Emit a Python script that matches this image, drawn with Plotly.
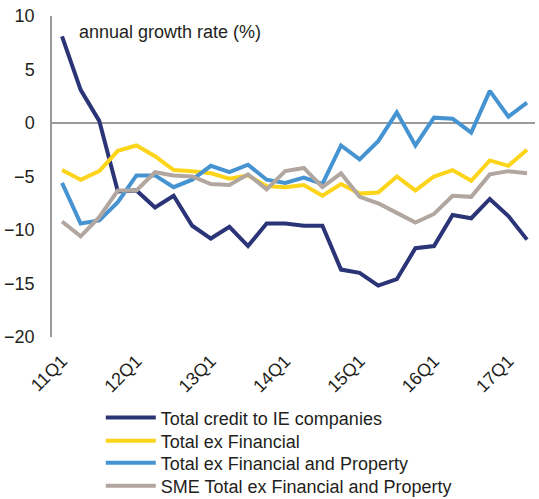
import plotly.graph_objects as go

quarters = ["11Q1","11Q2","11Q3","11Q4","12Q1","12Q2","12Q3","12Q4",
            "13Q1","13Q2","13Q3","13Q4","14Q1","14Q2","14Q3","14Q4",
            "15Q1","15Q2","15Q3","15Q4","16Q1","16Q2","16Q3","16Q4",
            "17Q1","17Q2"]
tick_labels = ["11Q1","12Q1","13Q1","14Q1","15Q1","16Q1","17Q1"]

total_credit = [8.1, 3.1, 0.2, -6.4, -6.3, -7.9, -6.8, -9.6, -10.8, -9.7, -11.5, -9.4,
                -9.4, -9.6, -9.6, -13.7, -14.0, -15.2, -14.6, -11.7, -11.5, -8.6,
                -8.9, -7.1, -8.7, -10.9]
total_ex_fin = [-4.4, -5.3, -4.5, -2.6, -2.1, -3.1, -4.4, -4.5, -4.7, -5.2, -4.9, -5.9,
                -6.0, -5.8, -6.8, -5.7, -6.6, -6.5, -5.0, -6.3, -5.0, -4.4,
                -5.4, -3.5, -4.0, -2.5]
total_ex_fin_prop = [-5.6, -9.4, -9.1, -7.4, -4.9, -4.9, -6.0, -5.3, -4.0, -4.6, -3.9, -5.3,
                     -5.6, -5.1, -5.7, -2.1, -3.4, -1.7, 1.0, -2.1, 0.5, 0.4,
                     -0.9, 3.0, 0.6, 1.9]
sme_ex_fin_prop = [-9.2, -10.6, -8.8, -6.3, -6.3, -4.6, -4.9, -5.0, -5.7, -5.8, -4.8, -6.2,
                   -4.5, -4.2, -6.0, -4.7, -6.9, -7.5, -8.4, -9.3, -8.5, -6.8,
                   -6.9, -4.8, -4.5, -4.7]

series = [
    ("Total credit to IE companies", total_credit, "#2a3476"),
    ("Total ex Financial", total_ex_fin, "#fcd419"),
    ("Total ex Financial and Property", total_ex_fin_prop, "#4693d1"),
    ("SME Total ex Financial and Property", sme_ex_fin_prop, "#b2a6a0"),
]

x_idx = list(range(len(quarters)))
legend_names = ["legend", "legend2", "legend3", "legend4"]
legend_y = [-0.252, -0.324, -0.393, -0.464]

fig = go.Figure()
for (name, vals, col), lg in zip(series, legend_names):
    fig.add_trace(go.Scatter(x=x_idx, y=vals, mode="lines", name=name, legend=lg,
                             line=dict(color=col, width=4)))

font_family = "Liberation Sans, Arial, sans-serif"
legend_common = dict(x=0.101, xanchor="left", yanchor="middle",
                     font=dict(size=18, color="#231f20"), itemwidth=50,
                     bgcolor="rgba(0,0,0,0)")
layout_legends = {lg: dict(y=yy, **legend_common) for lg, yy in zip(legend_names, legend_y)}

fig.update_layout(
    width=539, height=499,
    margin=dict(l=52, r=4, t=16, b=162, autoexpand=False),
    paper_bgcolor="white", plot_bgcolor="white",
    font=dict(family=font_family, size=18, color="#231f20"),
    showlegend=True,
    xaxis=dict(range=[-0.54, 25.43], tickvals=[x_idx[quarters.index(t)] for t in tick_labels],
               ticktext=tick_labels, tickangle=-45, showgrid=False, zeroline=False,
               showline=False, ticks="", tickfont=dict(size=18), automargin=False,
               ticklabelstandoff=9),
    yaxis=dict(range=[-20, 10], tickvals=[10, 5, 0, -5, -10, -15, -20],
               showgrid=False, zeroline=True, zerolinecolor="#9a9a9a", zerolinewidth=1.5,
               showline=True, linecolor="#9a9a9a", linewidth=1.5, ticks="",
               ticklabelstandoff=12, tickfont=dict(size=18), automargin=False),
    annotations=[dict(text="annual growth rate (%)", xref="paper", yref="paper",
                      x=0.052, y=0.95, xanchor="left", yanchor="middle",
                      showarrow=False, font=dict(size=18, color="#231f20"))],
    **layout_legends,
)

fig.write_html("out.html", config={"displayModeBar": False},
               post_script="document.body.style.margin='0';document.body.style.overflow='hidden';")
